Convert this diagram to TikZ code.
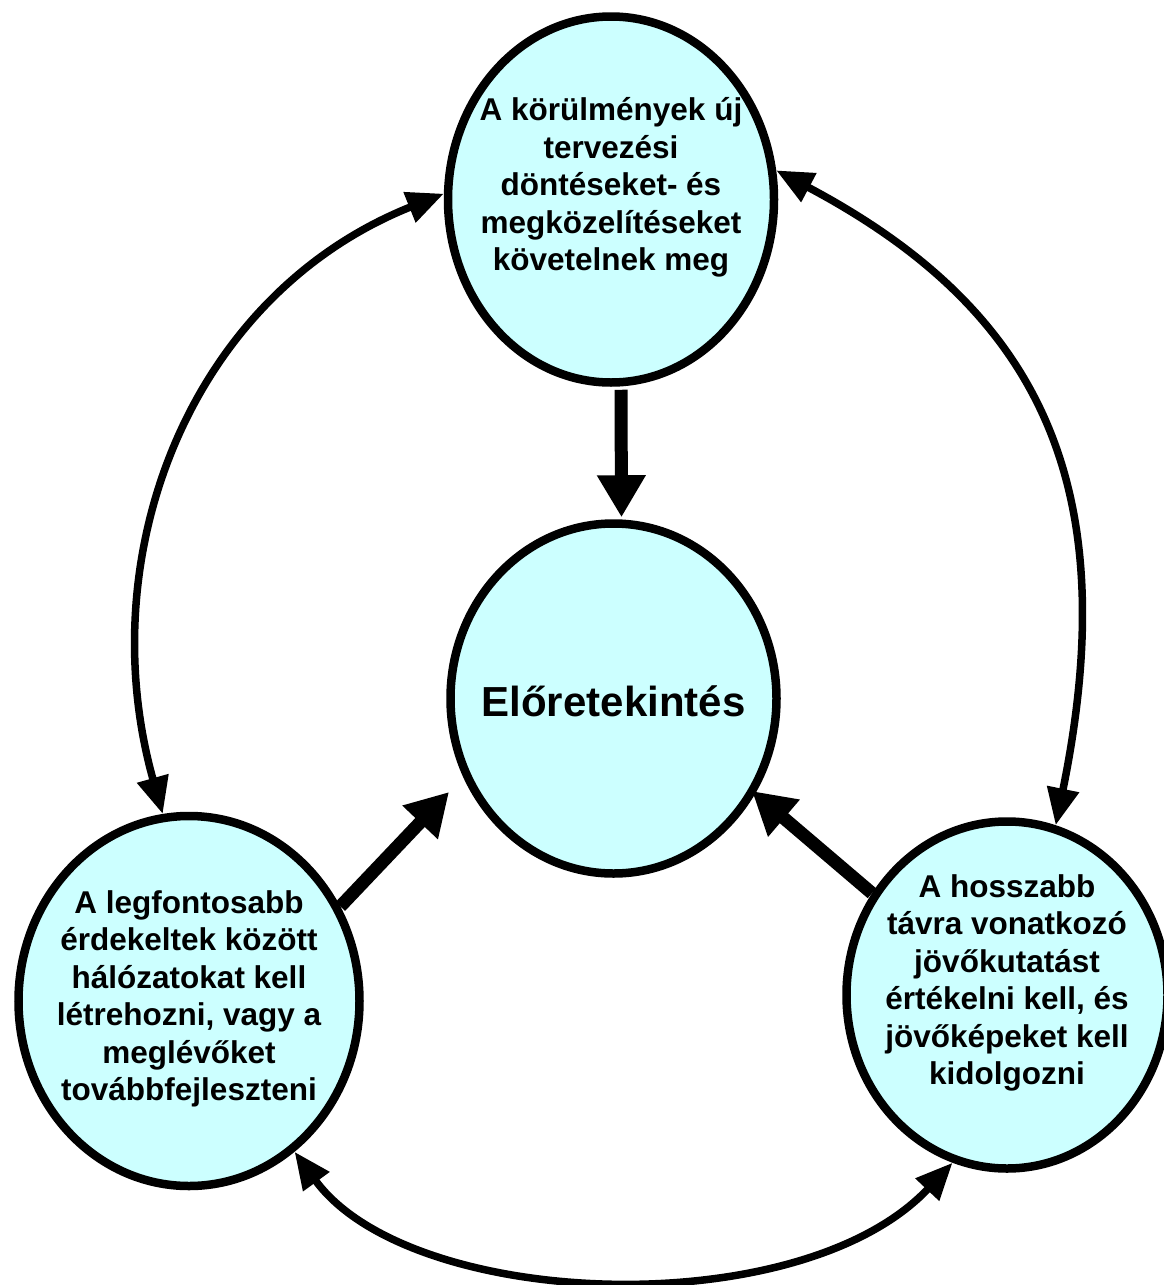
\documentclass[tikz,border=0pt]{standalone}
\usepackage{fontspec}
\setmainfont{Liberation Sans}
\usetikzlibrary{shapes.geometric,arrows.meta}
\definecolor{bubblefill}{HTML}{CCFFFF}
\begin{document}
\begin{tikzpicture}[x=1pt,y=-1pt,
  bubble/.style={ellipse, draw=black, line width=8.5pt, fill=bubblefill, inner sep=0pt},
  caption/.style={font=\bfseries\fontsize{31.5}{37.5}\selectfont, align=center, text=black, inner sep=0pt},
  bigcaption/.style={font=\bfseries\fontsize{42}{48}\selectfont, align=center, text=black, inner sep=0pt},
  linkarrow/.style={line width=7.5pt, {Triangle[length=37pt,width=31pt]}-{Triangle[length=37pt,width=31pt]}},
  feedarrow/.style={line width=13pt, -{Triangle[length=42pt,width=46pt]}}]
\useasboundingbox (0,0) rectangle (1163,1285);

% the four bubbles
\node[bubble, minimum width=326pt, minimum height=366pt,
  label={[name=Ttext, caption, yshift=12pt]center:{A körülmények új\\tervezési\\döntéseket- és\\megközelítéseket\\követelnek meg}}]
  (T) at (611,199.5) {};
\node[bubble, minimum width=326pt, minimum height=350pt,
  label={[name=Ctext, bigcaption, yshift=-3pt]center:{Előretekintés}}]
  (C) at (613.5,698.5) {};
\node[bubble, minimum width=341pt, minimum height=370pt,
  label={[name=Ltext, caption, yshift=2pt]center:{A legfontosabb\\érdekeltek között\\hálózatokat kell\\létrehozni, vagy a\\meglévőket\\továbbfejleszteni}}]
  (L) at (189,1001) {};
\node[bubble, minimum width=321pt, minimum height=347pt,
  label={[name=Rtext, caption, yshift=12pt]center:{A hosszabb\\távra vonatkozó\\jövőkutatást\\értékelni kell, és\\jövőképeket kell\\kidolgozni}}]
  (R) at (1007,995) {};

% tips of the inward arrows
\coordinate (Ltip) at (449,792);
\coordinate (Rtip) at (752,791);

% inward arrows toward the centre
\draw[feedarrow] ([xshift=10pt,yshift=-3pt]T.south) -- ([xshift=8pt,yshift=2pt]C.north);
\draw[feedarrow] (L.32) -- (Ltip);
\draw[feedarrow] (R.143) -- (Rtip);

% two-way links around the outside
\draw[linkarrow] (T.178) .. controls (190,295) and (90,555) .. (L.98);
\draw[linkarrow] (T.10) .. controls (1040,310) and (1125,486) .. (R.74);
\draw[linkarrow] (L.-55) .. controls (410,1310) and (800,1325) .. (R.252);
\end{tikzpicture}
\end{document}
